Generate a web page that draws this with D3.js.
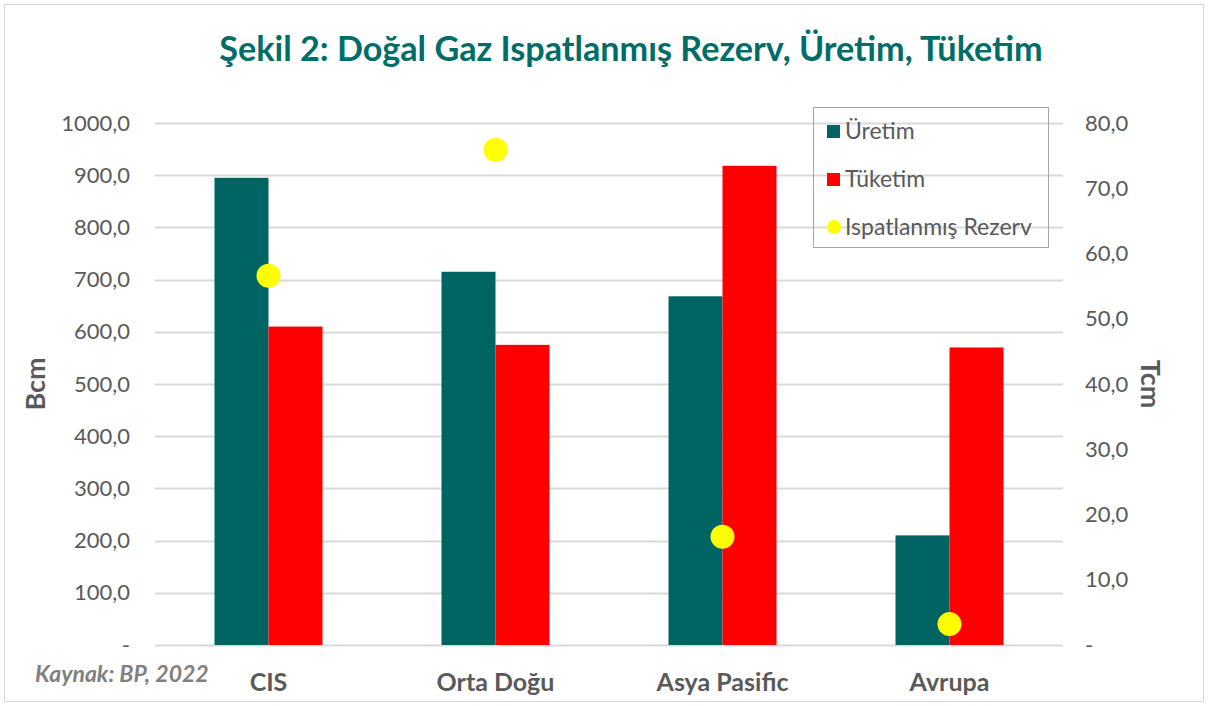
<!DOCTYPE html>
<html>
<head>
<meta charset="utf-8">
<script src="https://cdn.jsdelivr.net/npm/d3@7"></script>
<style>
  body { margin: 0; background: #fff; }
  svg text { font-family: Lato, "Open Sans", sans-serif; }
</style>
</head>
<body>
<svg id="chart" width="1208" height="706"></svg>
<script>
const categories = ["CIS", "Orta Doğu", "Asya Pasific", "Avrupa"];
const uretim = [895, 715, 668, 210];
const tuketim = [610, 575, 918, 570];
const rezerv = [56.6, 75.9, 16.6, 3.2];
const leftTicks = [0, 100, 200, 300, 400, 500, 600, 700, 800, 900, 1000];
const rightTicks = [0, 10, 20, 30, 40, 50, 60, 70, 80];
const seriesNames = ["Üretim", "Tüketim", "Ispatlanmış Rezerv"];
const colors = { uretim: "#006462", tuketim: "#ff0000", rezerv: "#ffff00" };

const svg = d3.select("#chart");
const width = 1208;
const height = 706;
const margin = { top: 123, right: 145, bottom: 61, left: 155 };
const innerWidth = width - margin.left - margin.right;
const innerHeight = height - margin.top - margin.bottom;
const textGray = "#595959";

svg.append("rect")
  .attr("x", 4.5).attr("y", 4.5)
  .attr("width", width - 9).attr("height", height - 9)
  .attr("fill", "#fff").attr("stroke", "#d9d9d9");

svg.append("text")
  .attr("x", 631).attr("y", 61)
  .attr("text-anchor", "middle")
  .attr("fill", "#006d68")
  .attr("font-size", 34.2)
  .attr("font-weight", "bold")
  .text("Şekil 2: Doğal Gaz Ispatlanmış Rezerv, Üretim, Tüketim");

const g = svg.append("g")
  .attr("transform", `translate(${margin.left},${margin.top})`);

const x0 = d3.scaleBand().domain(categories).range([0, innerWidth]);
const yLeft = d3.scaleLinear().domain([0, 1000]).range([innerHeight, 0]);
const yRight = d3.scaleLinear().domain([0, 80]).range([innerHeight, 0]);
const barW = 54;

// grid
g.append("g")
  .selectAll("line")
  .data(leftTicks)
  .join("line")
  .attr("x1", 0).attr("x2", innerWidth)
  .attr("y1", (d) => Math.round(yLeft(d)) + 0.5)
  .attr("y2", (d) => Math.round(yLeft(d)) + 0.5)
  .attr("stroke", "#d9d9d9")
  .attr("stroke-width", 2);

const fmt = (d) => (d === 0 ? "-" : d3.format(".1f")(d).replace(".", ","));

const leftAxis = g.append("g")
  .call(d3.axisLeft(yLeft).tickValues(leftTicks).tickFormat(fmt).tickSize(0).tickPadding(25));
leftAxis.select(".domain").remove();
leftAxis.selectAll("text").attr("font-size", 22).attr("fill", textGray);

const rightAxis = g.append("g")
  .attr("transform", `translate(${innerWidth},0)`)
  .call(d3.axisRight(yRight).tickValues(rightTicks).tickFormat(fmt).tickSize(0).tickPadding(22));
rightAxis.select(".domain").remove();
rightAxis.selectAll("text").attr("font-size", 22).attr("fill", textGray);

// bars
const groups = g.append("g")
  .selectAll("g")
  .data(categories)
  .join("g")
  .attr("transform", (d) => `translate(${x0(d) + x0.bandwidth() / 2},0)`);

groups.append("rect")
  .attr("x", -barW)
  .attr("width", barW)
  .attr("y", (d, i) => yLeft(uretim[i]))
  .attr("height", (d, i) => innerHeight - yLeft(uretim[i]))
  .attr("fill", colors.uretim);

groups.append("rect")
  .attr("x", 0)
  .attr("width", barW)
  .attr("y", (d, i) => yLeft(tuketim[i]))
  .attr("height", (d, i) => innerHeight - yLeft(tuketim[i]))
  .attr("fill", colors.tuketim);

groups.append("circle")
  .attr("cx", 0)
  .attr("cy", (d, i) => yRight(rezerv[i]))
  .attr("r", 12)
  .attr("fill", colors.rezerv);

// category labels
g.append("g")
  .selectAll("text")
  .data(categories)
  .join("text")
  .attr("x", (d) => x0(d) + x0.bandwidth() / 2)
  .attr("y", innerHeight + 46)
  .attr("text-anchor", "middle")
  .attr("font-size", 25)
  .attr("font-weight", "bold")
  .attr("fill", textGray)
  .text((d) => d);

// axis titles
svg.append("text")
  .attr("transform", "translate(45,384) rotate(-90)")
  .attr("text-anchor", "middle")
  .attr("font-size", 27)
  .attr("font-weight", "bold")
  .attr("fill", textGray)
  .text("Bcm");

svg.append("text")
  .attr("transform", "translate(1141,384) rotate(90)")
  .attr("text-anchor", "middle")
  .attr("font-size", 27)
  .attr("font-weight", "bold")
  .attr("fill", textGray)
  .text("Tcm");

svg.append("text")
  .attr("x", 35).attr("y", 682)
  .attr("font-size", 23)
  .attr("font-weight", "bold")
  .attr("font-style", "italic")
  .attr("fill", "#808080")
  .text("Kaynak: BP, 2022");

// legend
const legend = svg.append("g").attr("transform", "translate(813,107)");
legend.append("rect")
  .attr("x", 0.5).attr("y", 0.5)
  .attr("width", 235).attr("height", 140)
  .attr("fill", "none").attr("stroke", "#a6a6a6");

const legendItems = legend.selectAll("g.item")
  .data(seriesNames)
  .join("g")
  .attr("class", "item")
  .attr("transform", (d, i) => `translate(0,${24 + i * 48})`);

legendItems.each(function (d, i) {
  const item = d3.select(this);
  if (i < 2) {
    item.append("rect")
      .attr("x", 14).attr("y", -6)
      .attr("width", 13).attr("height", 13)
      .attr("fill", i === 0 ? colors.uretim : colors.tuketim);
  } else {
    item.append("circle")
      .attr("cx", 21).attr("cy", 0).attr("r", 7)
      .attr("fill", colors.rezerv);
  }
  item.append("text")
    .attr("x", 32).attr("y", 8)
    .attr("font-size", 23)
    .attr("fill", textGray)
    .text(d);
});
</script>
</body>
</html>
